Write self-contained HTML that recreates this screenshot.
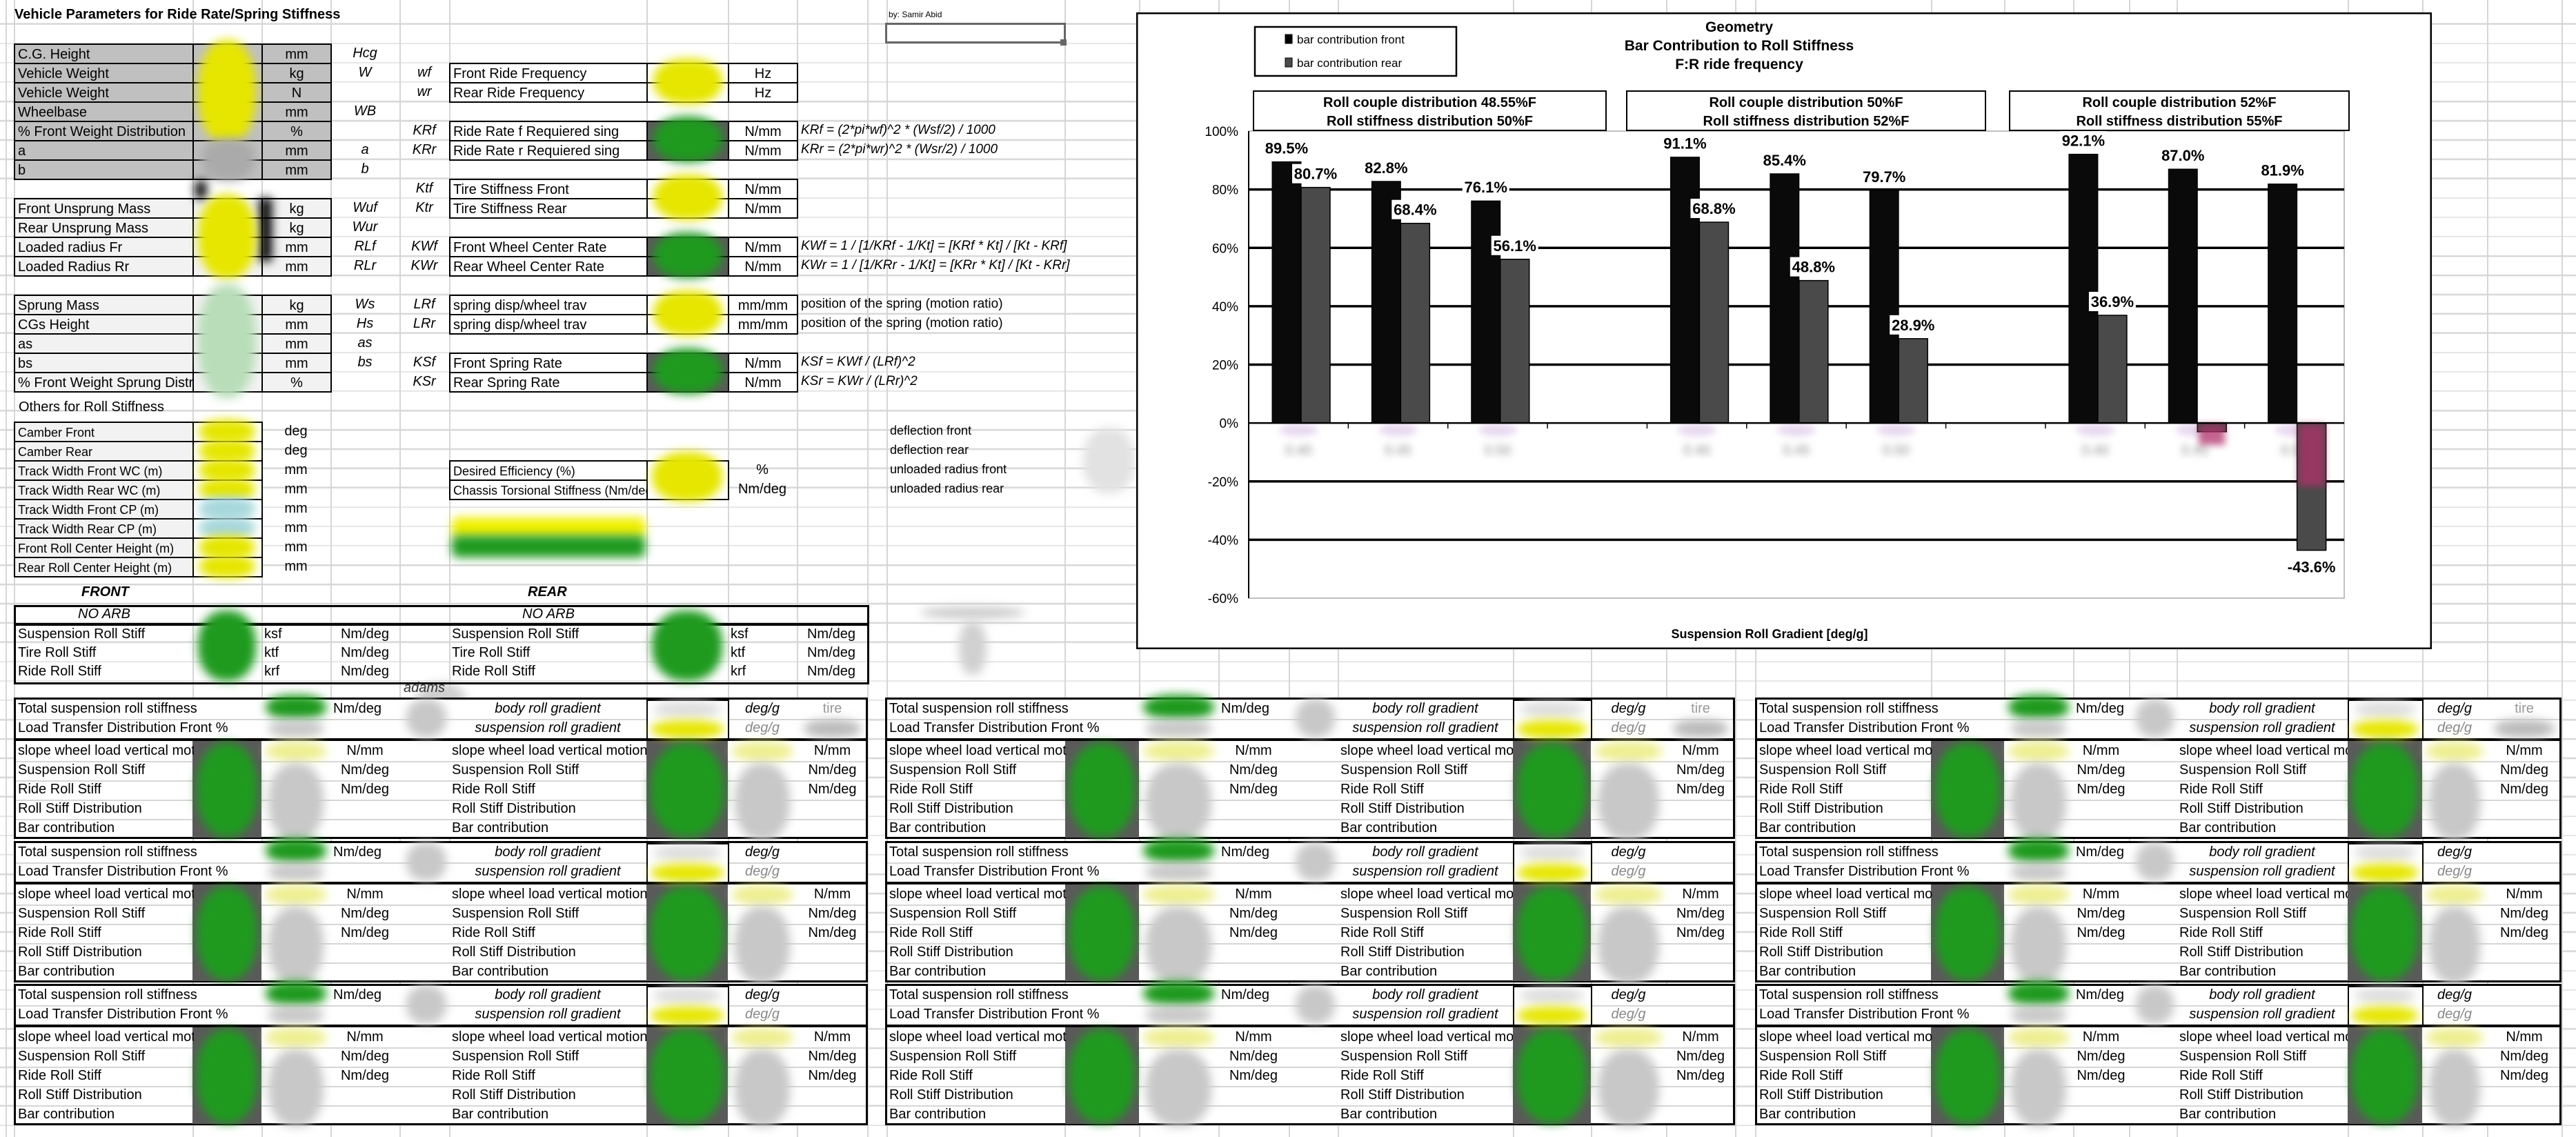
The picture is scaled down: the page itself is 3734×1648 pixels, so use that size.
<!DOCTYPE html>
<html><head><meta charset="utf-8">
<style>
body{margin:0;width:3734px;height:1648px;position:relative;overflow:hidden;background:#fff;font-family:"Liberation Sans",sans-serif;color:#000}
#hgrid{position:absolute;left:0;top:0;width:3734px;height:1648px;background:repeating-linear-gradient(to bottom,transparent 0 26px,#d6d6d6 26px 28px);background-position:0 8px}
.vl{position:absolute;top:0;width:2px;height:1648px;background:#d6d6d6}
.c{position:absolute;box-sizing:border-box;white-space:nowrap;overflow:hidden;font-size:20px;line-height:27px;padding:0 4px}
.b{border:2px solid #000}
.ctr{text-align:center}
.it{font-style:italic}
.blob{position:absolute;border-radius:45%;filter:blur(7px)}
.t{position:absolute;white-space:nowrap;font-size:20px}
</style></head><body>
<div id="hgrid"></div>
<div id="sheet"></div>
<div class="t" style="left:21px;top:8px;font-weight:bold;font-size:20px;line-height:27px">Vehicle Parameters for Ride Rate/Spring Stiffness</div>
<div class="t" style="left:1288px;top:14px;font-size:12px">by: Samir Abid</div>
<div style="position:absolute;left:1283px;top:33px;width:262px;height:30px;box-sizing:border-box;border:3px solid #666;background:#fff"></div>
<div style="position:absolute;left:1537px;top:57px;width:9px;height:9px;background:#666"></div>
<div class="t" style="left:27px;top:577px;line-height:27px">Others for Roll Stiffness</div>
<div class="t it" style="left:118px;top:845px;line-height:27px;font-weight:bold">FRONT</div>
<div class="t it" style="left:765px;top:845px;line-height:27px;font-weight:bold">REAR</div>
<div class="t it" style="left:585px;top:985px;line-height:24px;color:#333">adams</div>

<svg id="chart" style="position:absolute;left:1647px;top:18px" width="1878" height="923" xmlns="http://www.w3.org/2000/svg"></svg>

<script>
// ===== chart data =====
const categories = ['0.40','0.45','0.50','','0.40','0.45','0.50','','0.40','0.45','0.50'];
const frontValues = [89.5, 82.8, 76.1, null, 91.1, 85.4, 79.7, null, 92.1, 87.0, 81.9];
const rearValues = [80.7, 68.4, 56.1, null, 68.8, 48.8, 28.9, null, 36.9, -3.0, -43.6];
const rearLabelVisible = [1,1,1,0,1,1,1,0,1,0,1];
const yTicks = [100, 80, 60, 40, 20, 0, -20, -40, -60];
const groupLines1 = ['Roll couple distribution 48.55%F','Roll couple distribution 50%F','Roll couple distribution 52%F'];
const groupLines2 = ['Roll stiffness distribution 50%F','Roll stiffness distribution 52%F','Roll stiffness distribution 55%F'];
const legendLabels = ['bar contribution front','bar contribution rear'];

const NS='http://www.w3.org/2000/svg';
const svg=document.getElementById('chart');
function sv(tag,attrs,parent){const e=document.createElementNS(NS,tag);for(const k in attrs)e.setAttribute(k,attrs[k]);(parent||svg).appendChild(e);return e;}
const PL=163, PR=1751, YMAX=100, YMIN=-60, PT=172, PB=849;
function yS(v){return PT+(YMAX-v)/(YMAX-YMIN)*(PB-PT);}
const slotW=(PR-PL)/categories.length;
function xSlot(i){return PL+i*slotW;}
const barW=42, barOff=34;

let fr=sv('rect',{x:1,y:1,width:1876,height:921,fill:'#fff',stroke:'#000','stroke-width':3});


let pa=sv('rect',{x:PL,y:PT,width:PR-PL,height:PB-PT,fill:'#fff',stroke:'#aaa','stroke-width':1.5});



yTicks.forEach(function(v){
  const y=yS(v);
  if(v!==100 && v!==-60 && v!==0){
    const g=sv('line',{x1:PL,x2:PR,y1:y,y2:y,stroke:'#000','stroke-width':3.5});
    
    
  }
  const t=sv('text',{x:PL-15,y:y+7,'text-anchor':'end','font-size':19,'font-family':'Liberation Sans, sans-serif'});
  t.textContent=v+'%';
  
  
});
let yax=sv('line',{x1:PL,x2:PL,y1:PT,y2:PB,stroke:'#000','stroke-width':2});



const defs=sv('defs',{});
const flt=sv('filter',{id:'bl',x:'-50%',y:'-50%',width:'200%',height:'200%'},defs);
sv('feGaussianBlur',{stdDeviation:5},flt);
categories.forEach(function(c,i){
  if(!c) return;
  const t=sv('text',{x:xSlot(i)+slotW/2,y:yS(0)+46,'text-anchor':'middle','font-size':20,fill:'#888',filter:'url(#bl)','font-family':'Liberation Sans, sans-serif'});
  t.textContent=c;
  
  
  const p=sv('ellipse',{cx:xSlot(i)+slotW/2,cy:yS(0)+10,rx:28,ry:9,fill:'#d0b0e0',opacity:0.5,filter:'url(#bl)'});
  
  
});
let fl=sv('line',{x1:PL+40,x2:PL+900,y1:yS(-19),y2:yS(-19),stroke:'#ddd','stroke-width':5,filter:'url(#bl)'});



frontValues.forEach(function(v,i){
  if(v===null) return;
  const x=xSlot(i)+barOff;
  const y=Math.min(yS(v),yS(0)), h=Math.abs(yS(v)-yS(0));
  const r=sv('rect',{x:x,y:y,width:barW,height:h,fill:'#0a0a0a',stroke:'#000','stroke-width':1});
  
  
});
rearValues.forEach(function(v,i){
  if(v===null) return;
  const x=xSlot(i)+barOff+barW;
  const y=Math.min(yS(v),yS(0)), h=Math.abs(yS(v)-yS(0));
  const r=sv('rect',{x:x,y:y,width:barW,height:h,fill:'#4a4a4a',stroke:'#000','stroke-width':1.5});
  
  
  if(v<0){
    const pk=sv('rect',{x:x+2,y:yS(0)+2,width:barW-4,height:Math.max(Math.min(h,90),30),fill:'#b0306a',opacity:0.75,filter:'url(#bl)'});
    
    
  }
});
let zl=sv('line',{x1:PL,x2:PR,y1:yS(0),y2:yS(0),stroke:'#000','stroke-width':2.5});


categories.forEach(function(c,i){
  const tk=sv('line',{x1:xSlot(i),x2:xSlot(i),y1:yS(0),y2:yS(0)+8,stroke:'#000','stroke-width':1.5});
  
  
});

function vlabel(x,y,txt,name){
  const w=txt.length*12.4+6;
  const bg=sv('rect',{x:x-w/2,y:y-14,width:w,height:28,fill:'#fff'});
  
  
  const t=sv('text',{x:x,y:y+8,'text-anchor':'middle','font-size':22,'font-weight':'bold','font-family':'Liberation Sans, sans-serif'});
  t.textContent=txt;
  
  
}
frontValues.forEach(function(v,i){
  if(v===null) return;
  vlabel(xSlot(i)+barOff+barW/2, yS(v)-20, v.toFixed(1)+'%', 'front-value-label');
});
rearValues.forEach(function(v,i){
  if(v===null || !rearLabelVisible[i]) return;
  const y = v>=0 ? yS(v)-20 : yS(v)+24;
  vlabel(xSlot(i)+barOff+barW*1.5, y, v.toFixed(1)+'%', 'rear-value-label');
});

['Geometry','Bar Contribution to Roll Stiffness','F:R ride frequency'].forEach(function(s,k){
  const t=sv('text',{x:874,y:28+k*27,'text-anchor':'middle','font-size':21,'font-weight':'bold','font-family':'Liberation Sans, sans-serif'});
  t.textContent=s;
  
  
});
const lg=sv('g',{});


sv('rect',{x:172,y:21,width:292,height:71,fill:'#fff',stroke:'#000','stroke-width':2.5},lg);
legendLabels.forEach(function(s,k){
  const sq=sv('rect',{x:216,y:32+k*34,width:10,height:13,fill:k?'#4a4a4a':'#000',stroke:'#000'},lg);
  
  
  const t=sv('text',{x:233,y:45+k*34,'font-size':17,'font-family':'Liberation Sans, sans-serif'},lg);
  t.textContent=s;
  
  
});
const gx=[[170,681],[711,1231],[1266,1758]];
gx.forEach(function(g,k){
  const r=sv('rect',{x:g[0],y:114,width:g[1]-g[0],height:57,fill:'#fff',stroke:'#000','stroke-width':2});
  
  
  [groupLines1[k],groupLines2[k]].forEach(function(s,j){
    const t=sv('text',{x:(g[0]+g[1])/2,y:137+j*27,'text-anchor':'middle','font-size':20,'font-weight':'bold','font-family':'Liberation Sans, sans-serif'});
    t.textContent=s;
    
    
  });
});
let xt=sv('text',{x:918,y:907,'text-anchor':'middle','font-size':18,'font-weight':'bold','font-family':'Liberation Sans, sans-serif'});
xt.textContent='Suspension Roll Gradient [deg/g]';



// ===== spreadsheet =====
const sheet=document.getElementById('sheet');
const vcols=[8,20,279,379,479,579,651,937,1055,1155,1257,1285,1543,1651,1766,1868,1939,2193,2306,2415,2515,2544,2799,2905,3005,3086,3155,3403,3511,3605,3713];
vcols.forEach(function(x){
  const d=document.createElement('div');
  d.className='vl';
  d.style.left=x+'px';
  
  
  sheet.appendChild(d);
});
function cell(x,y,w,h,txt,cls,bg,name,inter){
  const d=document.createElement('div');
  d.className='c '+(cls||'');
  d.style.left=x+'px';d.style.top=y+'px';d.style.width=w+'px';d.style.height=h+'px';d.style.lineHeight=(h-2)+'px';
  if(bg) d.style.background=bg;
  d.textContent=txt||'';
  
  
  sheet.appendChild(d);
  return d;
}
function blob(x,y,w,h,col,name,r){
  const d=document.createElement('div');
  d.className='blob';
  d.style.left=x+'px';d.style.top=y+'px';d.style.width=w+'px';d.style.height=h+'px';d.style.background=col;
  if(r!==undefined) d.style.borderRadius=r;
  
  
  sheet.appendChild(d);
}
const YEL='#e6e600', GRN='#1f9a1f', GRY='#c8c8c8', DG='#5a5a5a';
function ry(i){return 7+28*i;}
const leftRows=[
 [2,'C.G. Height','mm','Hcg','#c0c0c0'],[3,'Vehicle Weight','kg','W','#c0c0c0'],[4,'Vehicle Weight','N','','#c0c0c0'],
 [5,'Wheelbase','mm','WB','#c0c0c0'],[6,'% Front Weight Distribution','%','','#c0c0c0'],[7,'a','mm','a','#c0c0c0'],[8,'b','mm','b','#c0c0c0'],
 [10,'Front Unsprung Mass','kg','Wuf','#f2f2f2'],[11,'Rear Unsprung Mass','kg','Wur','#f2f2f2'],[12,'Loaded radius Fr','mm','RLf','#f2f2f2'],[13,'Loaded Radius Rr','mm','RLr','#f2f2f2'],
 [15,'Sprung Mass','kg','Ws','#f2f2f2'],[16,'CGs Height','mm','Hs','#f2f2f2'],[17,'as','mm','as','#f2f2f2'],[18,'bs','mm','bs','#f2f2f2'],[19,'% Front Weight Sprung Distribution','%','','#f2f2f2']
];
leftRows.forEach(function(r){
  const y=ry(r[0]);
  cell(20,y,261,30,r[1],'b',r[4],'param-label','false');
  cell(279,y,102,30,'','b',r[4],'param-value','true');
  cell(379,y,102,30,r[2],'b ctr',r[4],'param-unit','false');
  cell(479,y,100,30,r[3],'ctr it','','param-symbol','false');
});
const rightRows=[
 [3,'wf','Front Ride Frequency','Hz',''],[4,'wr','Rear Ride Frequency','Hz',''],
 [6,'KRf','Ride Rate f Requiered sing','N/mm','KRf = (2*pi*wf)^2 * (Wsf/2) / 1000'],[7,'KRr','Ride Rate r Requiered sing','N/mm','KRr = (2*pi*wr)^2 * (Wsr/2) / 1000'],
 [9,'Ktf','Tire Stiffness Front','N/mm',''],[10,'Ktr','Tire Stiffness Rear','N/mm',''],
 [12,'KWf','Front Wheel Center Rate','N/mm','KWf = 1 / [1/KRf - 1/Kt] = [KRf * Kt] / [Kt - KRf]'],[13,'KWr','Rear Wheel Center Rate','N/mm','KWr = 1 / [1/KRr - 1/Kt] = [KRr * Kt] / [Kt - KRr]'],
 [15,'LRf','spring disp/wheel trav','mm/mm','position of the spring (motion ratio)'],[16,'LRr','spring disp/wheel trav','mm/mm','position of the spring (motion ratio)'],
 [18,'KSf','Front Spring Rate','N/mm','KSf = KWf / (LRf)^2'],[19,'KSr','Rear Spring Rate','N/mm','KSr = KWr / (LRr)^2']
];
rightRows.forEach(function(r){
  const y=ry(r[0]);
  cell(579,y,72,30,r[1],'ctr it','','rate-symbol','false');
  cell(651,y,288,30,r[2],'b','#fff','rate-label','false');
  const dark=(r[3]==='N/mm' && r[0]!==9 && r[0]!==10);
  cell(937,y,120,30,'','b',dark?DG:'#fff','rate-value','true');
  cell(1055,y,102,30,r[3],'b ctr','#fff','rate-unit','false');
  if(r[4]) cell(1157,y,500,30,r[4],r[0]===15||r[0]===16?'':'it','','rate-formula','false').style.fontSize='19px';
});
blob(287,58,84,150,YEL,'blurred-value');
blob(292,200,78,62,'#aaa','blurred-value');
blob(283,262,16,26,'#000','blurred-value','2px');
blob(376,287,18,92,'#000','blurred-value','2px');
blob(287,282,84,122,YEL,'blurred-value');
blob(287,412,84,165,'#b8ddb8','blurred-value');
[[3,4,YEL],[6,7,GRN],[9,10,YEL],[12,13,GRN],[15,16,YEL],[18,19,GRN]].forEach(function(b){
  blob(947,ry(b[0])-6,100,(b[1]-b[0]+1)*28+10,b[2],'blurred-rate-value');
});
const otherRows=[['Camber Front','deg',YEL],['Camber Rear','deg',YEL],['Track Width Front WC (m)','mm',YEL],['Track Width Rear WC (m)','mm',YEL],
 ['Track Width Front CP (m)','mm','#a8d8dc'],['Track Width Rear CP (m)','mm','#a8d8dc'],['Front Roll Center Height (m)','mm',YEL],['Rear Roll Center Height (m)','mm',YEL]];
otherRows.forEach(function(r,k){
  const y=611+28*k;
  cell(20,y,261,30,r[0],'b','#f2f2f2','roll-param-label','false').style.fontSize='18px';
  cell(279,y,102,30,'','b','#fff','roll-param-value','true');
  cell(379,y,100,30,r[1],'ctr','','roll-param-unit','false');
  blob(288,y-3,82,34,r[2],'blurred-value');
});
cell(651,667,288,30,'Desired Efficiency (%)','b','#fff','desired-efficiency-label','false').style.fontSize='18px';
cell(651,695,288,30,'Chassis Torsional Stiffness (Nm/deg)','b','#fff','chassis-stiffness-label','false').style.fontSize='18px';
cell(937,667,120,58,'','b','#fff','efficiency-values','true');
cell(1055,667,100,30,'%','ctr','','efficiency-unit','false');
cell(1055,695,100,30,'Nm/deg','ctr','','chassis-unit','false');
blob(945,655,102,72,YEL,'blurred-value');
blob(655,750,280,30,'#f0f000','blurred-result',"8px");
blob(655,776,280,32,'#1e9a1e','blurred-result',"8px");
['deflection front','deflection rear','unloaded radius front','unloaded radius rear'].forEach(function(s,k){
  const d=cell(1286,611+28*k,250,28,s,'','','tire-note','false');
  d.style.fontSize='18px';
});
blob(1570,620,75,95,'#e2e2e2','blurred-tire-values');
blob(1335,880,150,16,'#c8c8c8','blurred-header');
blob(1390,900,40,78,'#d0d0d0','blurred-values');
blob(605,990,70,50,'#d0d0d0','blurred-adams');

cell(20,877,1240,115,'','','','no-arb-table','false').style.border='3px solid #000';
cell(20,877,1240,30,'','','','no-arb-header','false').style.borderBottom='4px solid #000';
cell(20,877,262,28,'NO ARB','ctr it','','no-arb-front-title','false');
cell(651,877,288,28,'NO ARB','ctr it','','no-arb-rear-title','false');
[['Suspension Roll Stiff','ksf'],['Tire Roll Stiff','ktf'],['Ride Roll Stiff','krf']].forEach(function(r,k){
  const y=907+27*k;
  cell(22,y,257,27,r[0],'','','no-arb-front-label','false');
  cell(379,y,100,27,r[1],'','','no-arb-front-symbol','false');
  cell(479,y,100,27,'Nm/deg','ctr','','no-arb-front-unit','false');
  cell(651,y,286,27,r[0],'','','no-arb-rear-label','false');
  cell(1055,y,100,27,r[1],'','','no-arb-rear-symbol','false');
  cell(1155,y,100,27,'Nm/deg','ctr','','no-arb-rear-unit','false');
});
blob(287,885,84,102,GRN,'blurred-value');
blob(945,885,102,102,GRN,'blurred-value');

const tableCols=[[20,279,379,479,579,651,937,1055,1155,1258],[1283,1544,1651,1766,1868,1939,2193,2306,2415,2515],[2544,2799,2905,3005,3086,3155,3403,3511,3605,3713]];
const tableTops=[1011,1219,1426];
const blockLabels=['slope wheel load vertical motion','Suspension Roll Stiff','Ride Roll Stiff','Roll Stiff Distribution','Bar contribution'];
const blockUnits=['N/mm','Nm/deg','Nm/deg','',''];
tableTops.forEach(function(T,ti){
  tableCols.forEach(function(c,ci){
    const W=c[9]-c[0];
    const h=cell(c[0],T,W,62,'','','#fff','table-header-box','false');
    h.style.border='3px solid #000';
    const b=cell(c[0],T+59,W,146,'','','#fff','table-body-box','false');
    b.style.border='3px solid #000';b.style.borderTopWidth='4px';
    for(let k=1;k<5;k++){
      const l=cell(c[0]+3,T+64+28*k,W-6,2,'','','#d6d6d6','table-row-line','false');
      l.style.padding='0';
    }
    const l2=cell(c[0]+3,T+31,W-6,2,'','','#d6d6d6','table-row-line','false');
    l2.style.padding='0';
    cell(c[1],T+63,c[2]-c[1],140,'','',DG,'bar-value-cell','true');
    cell(c[6],T+63,c[7]-c[6],140,'','',DG,'bar-value-cell','true');
    cell(c[6],T+3,c[7]-c[6]+2,58,'','b','#fff','gradient-value-cell','true');
    cell(c[0]+2,T+3,c[2]-c[0],28,'Total suspension roll stiffness','','','total-roll-stiffness-label','false');
    cell(c[0]+2,T+31,c[3]-c[0]+40,28,'Load Transfer Distribution Front %','','','load-transfer-label','false');
    cell(c[3],T+3,100,28,'Nm/deg','','','total-roll-unit','false');
    cell(c[5],T+3,c[6]-c[5],28,'body roll gradient','ctr it','','body-roll-gradient-label','false');
    cell(c[5],T+31,c[6]-c[5],28,'suspension roll gradient','ctr it','','suspension-roll-gradient-label','false');
    cell(c[7],T+3,c[8]-c[7],28,'deg/g','ctr it','','deg-per-g-unit','false');
    cell(c[7],T+31,c[8]-c[7],28,'deg/g','ctr it','','deg-per-g-unit','false').style.color='#888';
    if(ti===0){
      cell(c[8],T+3,c[9]-c[8],28,'tire','ctr','','tire-label','false').style.color='#999';
      blob(c[8]+10,T+32,c[9]-c[8]-20,26,'#bbb','blurred-tire-value');
    }
    blockLabels.forEach(function(s,k){
      const y=T+64+28*k;
      cell(c[0]+2,y,c[1]-c[0],28,s,'','','block-front-label','false');
      cell(c[5],y,c[6]-c[5],28,s,'','','block-rear-label','false');
      if(blockUnits[k]){
        cell(c[3],y,c[4]-c[3],28,blockUnits[k],'ctr','','block-front-unit','false');
        cell(c[8],y,c[9]-c[8],28,blockUnits[k],'ctr','','block-rear-unit','false');
      }
    });
    blob(c[2]+6,T-4,c[3]-c[2]-12,36,GRN,'blurred-total');
    blob(c[2]+10,T+32,c[3]-c[2]-20,26,GRY,'blurred-ltd');
    blob(c[4]+10,T+2,c[5]-c[4]-14,56,GRY,'blurred-adams-value');
    blob(c[6]+10,T+6,c[7]-c[6]-20,22,'#ddd','blurred-gradient');
    blob(c[6]+6,T+33,c[7]-c[6]-12,26,YEL,'blurred-gradient');
    blob(c[1]+6,T+66,c[2]-c[1]-12,136,GRN,'blurred-bar-values');
    blob(c[2]+6,T+64,c[3]-c[2]-12,28,'#eeee90','blurred-slope');
    blob(c[2]+10,T+95,c[3]-c[2]-20,112,GRY,'blurred-front-values');
    blob(c[6]+6,T+66,c[7]-c[6]-12,136,GRN,'blurred-bar-values');
    blob(c[7]+6,T+64,c[8]-c[7]-12,28,'#eeee90','blurred-slope');
    blob(c[7]+10,T+95,c[8]-c[7]-20,112,GRY,'blurred-rear-values');
  });
});
</script>
</body></html>
